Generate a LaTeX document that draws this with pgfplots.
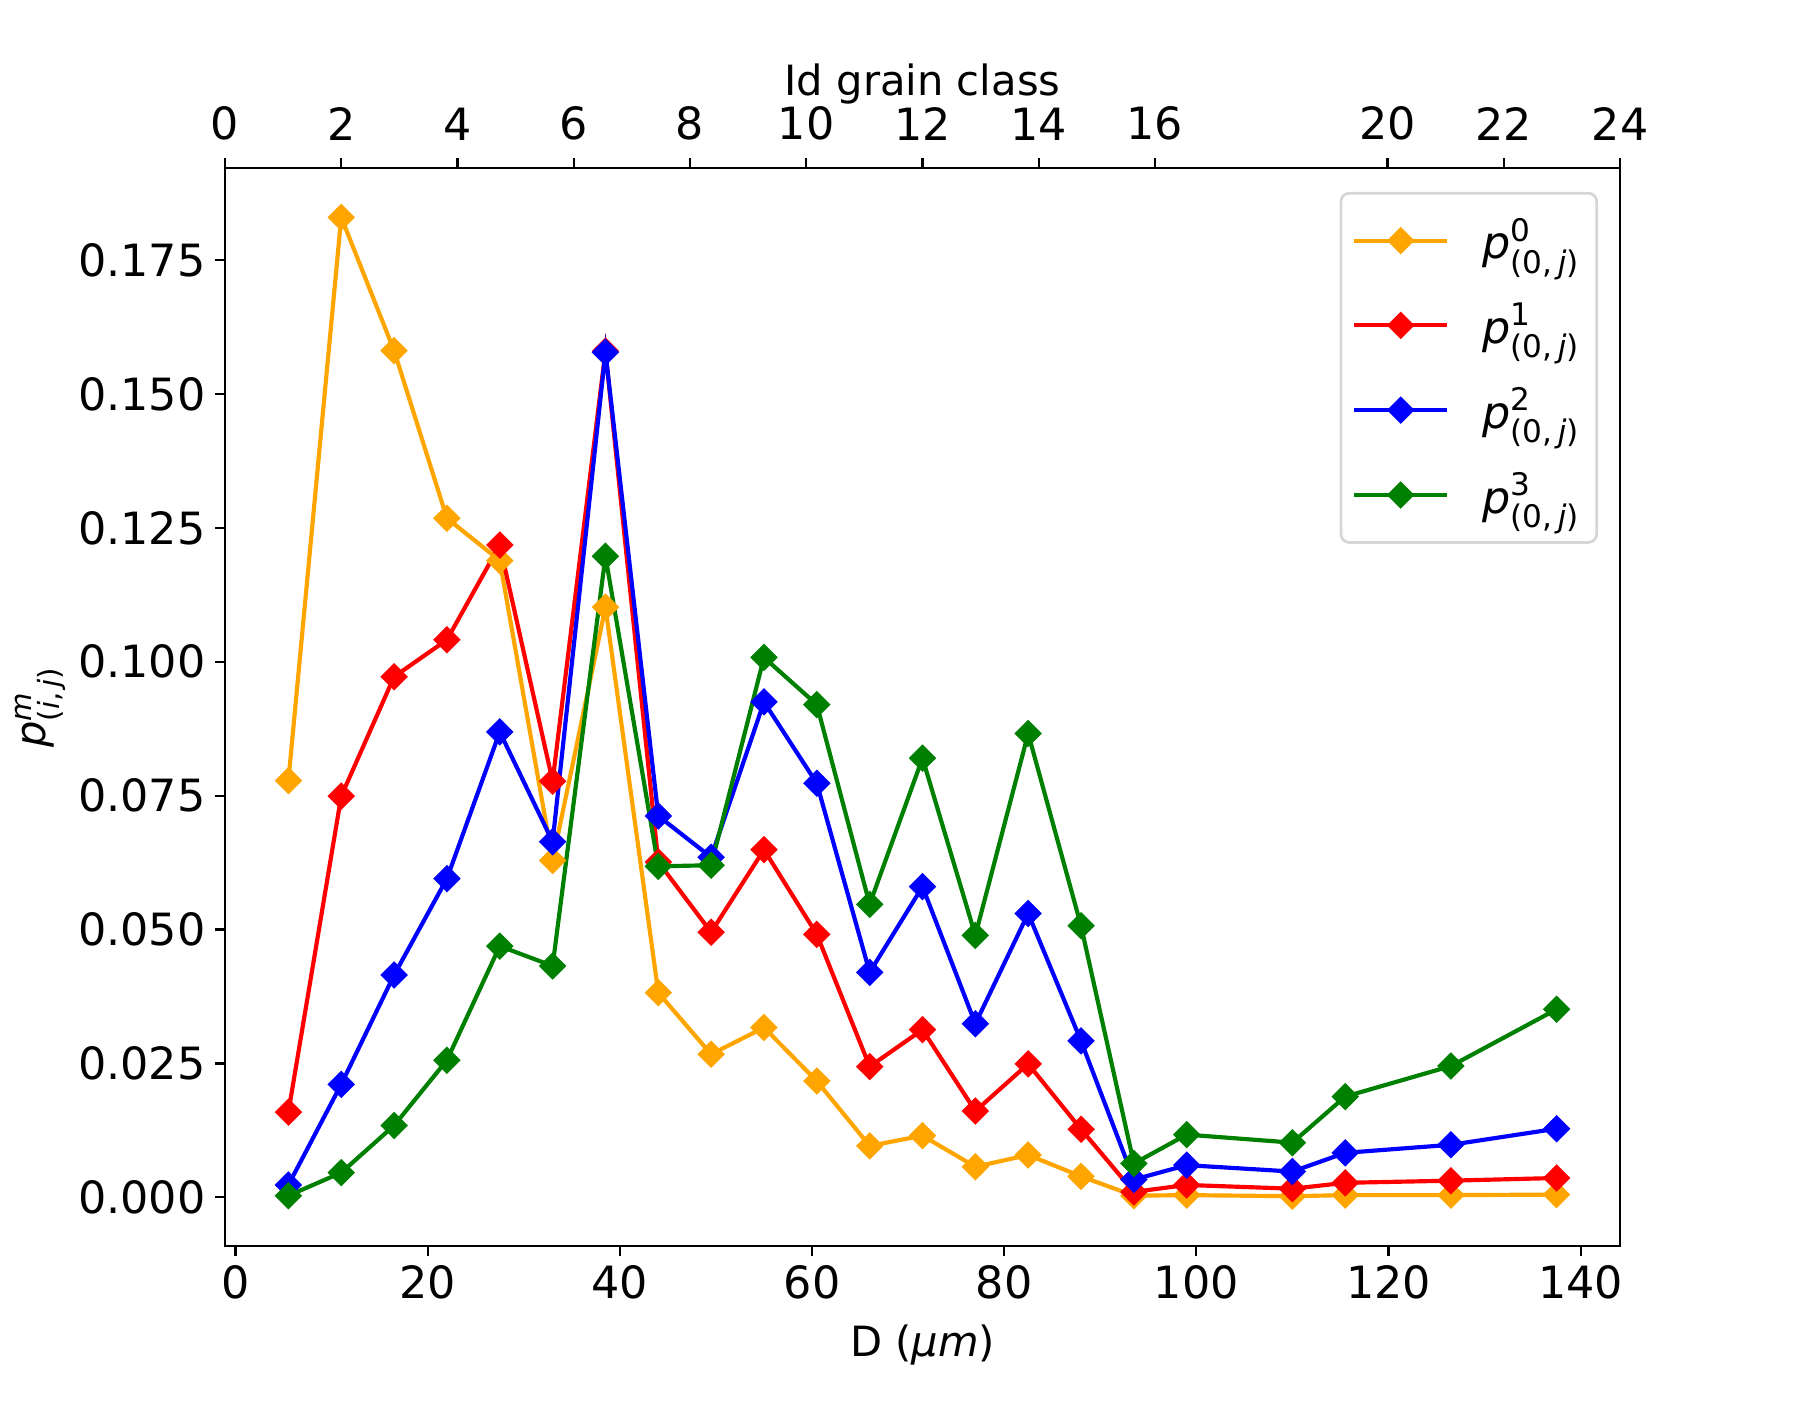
\documentclass[border=0pt]{standalone}
\usepackage{amsmath}
\usepackage{fontspec}
\setmainfont{DejaVu Sans}
\usepackage{pgfplots}
\pgfplotsset{compat=1.18}
\usepackage{pgfplotstable}
\definecolor{cOrange}{HTML}{FFA500}
\definecolor{cRed}{HTML}{FF0000}
\definecolor{cBlue}{HTML}{0000FF}
\definecolor{cGreen}{HTML}{008000}
\newcommand{\fs}{\fontsize{15}{18}\selectfont}
\newcommand{\ft}{\fontsize{16}{19}\selectfont}
\pgfplotstableread{
D     p0      p1      p2      p3
5.5   0.0778  0.0159  0.0023  0.0003
11    0.1830  0.0749  0.0211  0.0046
16.5  0.1581  0.0972  0.0415  0.0134
22    0.1268  0.1041  0.0595  0.0256
27.5  0.1189  0.1218  0.0869  0.0469
33    0.0629  0.0777  0.0664  0.0432
38.5  0.1102  0.1580  0.1578  0.1197
44    0.0382  0.0626  0.0712  0.0618
49.5  0.0267  0.0495  0.0635  0.0620
55    0.0317  0.0649  0.0925  0.1008
60.5  0.0217  0.0491  0.0773  0.0920
66    0.0096  0.0244  0.0420  0.0547
71.5  0.0115  0.0313  0.0580  0.0820
77    0.0057  0.0161  0.0324  0.0489
82.5  0.0079  0.0249  0.0530  0.0866
88    0.0039  0.0127  0.0292  0.0507
93.5  0.0003  0.0010  0.0033  0.0063
99    0.0004  0.0023  0.0060  0.0117
110   0.0002  0.0016  0.0048  0.0102
115.5 0.0004  0.0027  0.0083  0.0188
126.5 0.0004  0.0031  0.0098  0.0245
137.5 0.0005  0.0036  0.0128  0.0351
}\datatable
\begin{document}
\begin{tikzpicture}
\path[use as bounding box] (-81pt,-55.44pt) rectangle (567pt,448.56pt);
\begin{axis}[
  at={(0,0)}, anchor=south west,
  scale only axis, width=502.2pt, height=388.08pt,
  xmin=-1.1, xmax=144.1, ymin=-0.0091, ymax=0.1922,
  xtick={0,20,...,140},
  ytick={0,0.025,...,0.176},
  xtick pos=bottom, ytick pos=left,
  tick align=outside,
  major tick length=3.5pt,
  tick style={black, line width=0.8pt},
  axis line style={line width=0.8pt},
  /pgf/number format/assume math mode=true,
  yticklabel style={/pgf/number format/.cd, fixed, fixed zerofill, precision=3},
  scaled y ticks=false,
  ticklabel style={font=\ft},
  label style={font=\fs},
  xlabel={D (\textit{µm})},
  ylabel={$\textit{p}^{\textit{m}}_{\text{(\textit{i},\,\textit{j})}}$},
  xlabel style={at={(axis description cs:0.5,0)}, anchor=center, yshift=-35.6pt},
  ylabel style={at={(axis description cs:-0.1325,0.5)}, anchor=center},
  legend style={at={(1,1)}, anchor=north east, xshift=-7.9pt, yshift=-8.6pt,
    draw=black!16, line width=1pt, rounded corners=3pt, fill=white,
    font=\ft, row sep=10.5pt, column sep=10pt, inner xsep=4pt, inner ysep=7pt},
  legend cell align=left,
  legend image code/.code={\draw[mark repeat=2,mark phase=2,#1] plot coordinates {(0pt,0pt)(16.75pt,0pt)(33.5pt,0pt)};},
  every axis plot/.append style={line width=1.5pt, mark=square*, mark size=3pt, mark options={rotate=45, line width=1pt, solid}},
]
\addplot[color=cOrange] table[x=D, y=p0] {\datatable};
\addlegendentry{$\textit{p}^{\text{0}}_{\text{(0,\,\textit{j})}}$}
\addplot[color=cRed] table[x=D, y=p1] {\datatable};
\addlegendentry{$\textit{p}^{\text{1}}_{\text{(0,\,\textit{j})}}$}
\addplot[color=cBlue] table[x=D, y=p2] {\datatable};
\addlegendentry{$\textit{p}^{\text{2}}_{\text{(0,\,\textit{j})}}$}
\addplot[color=cGreen] table[x=D, y=p3] {\datatable};
\addlegendentry{$\textit{p}^{\text{3}}_{\text{(0,\,\textit{j})}}$}
\end{axis}
\begin{axis}[
  at={(0,0)}, anchor=south west,
  scale only axis, width=502.2pt, height=388.08pt,
  xmin=0, xmax=24, ymin=0, ymax=1,
  hide y axis,
  axis x line*=top,
  xtick={0,2,4,6,8,10,12,14,16,20,22,24},
  tick align=outside,
  major tick length=3.5pt,
  tick style={black, line width=0.8pt},
  axis line style={line width=0.8pt},
  /pgf/number format/assume math mode=true,
  ticklabel style={font=\ft},
  xticklabel style={yshift=3pt},
  label style={font=\fs},
  xlabel={Id grain class},
  xlabel style={at={(axis description cs:0.5,1)}, anchor=center, yshift=30.4pt},
]
\end{axis}
\end{tikzpicture}
\end{document}
